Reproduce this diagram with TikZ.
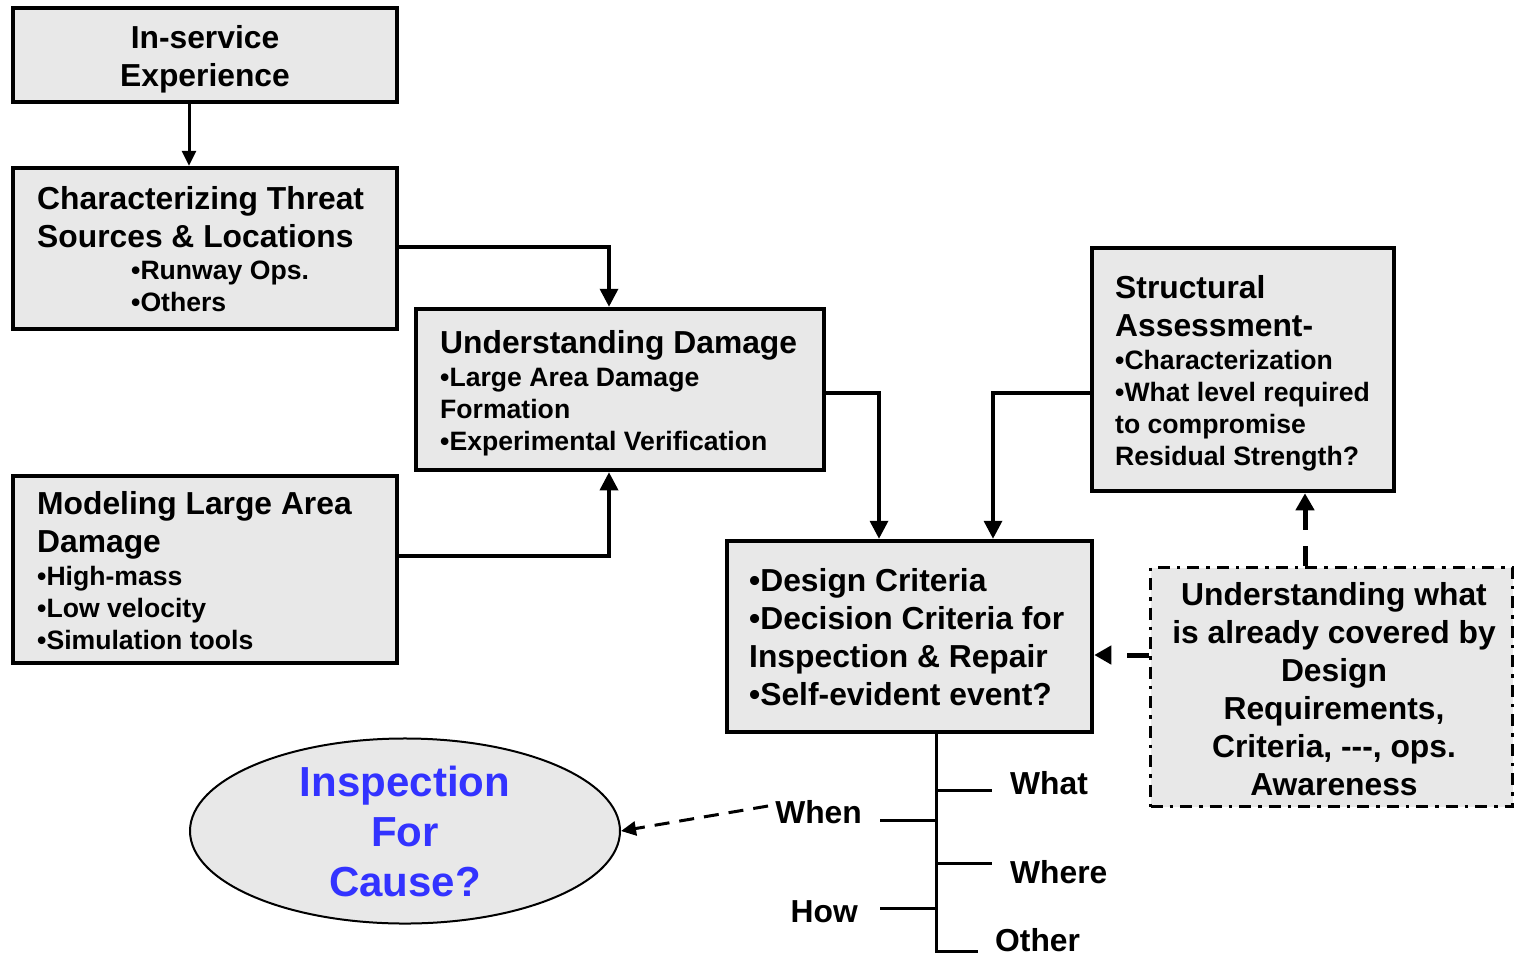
\documentclass[tikz,border=0pt]{standalone}
\usepackage{fontspec}
\setmainfont{Liberation Sans}
\usetikzlibrary{arrows.meta,shapes.geometric,calc}
\definecolor{boxgray}{HTML}{E8E8E8}
\definecolor{askblue}{HTML}{3333FF}
\begin{document}
\begin{tikzpicture}[x=1pt,y=-1pt,
  box/.style={draw=black,fill=boxgray,line width=4.5pt,inner sep=0pt,rectangle},
  big/.style={font=\bfseries\fontsize{31.8}{38}\selectfont,inner sep=0pt},
  small/.style={font=\bfseries\fontsize{26.6}{32}\selectfont,inner sep=0pt},
  conn/.style={line width=3.5pt,-{Triangle[length=18pt,width=18pt]}},
  thinconn/.style={line width=3pt,-{Triangle[length=15pt,width=14pt]}},
  dashconn/.style={line width=5pt,dash pattern=on 20pt off 16pt,-{Triangle[length=17pt,width=18pt]}},
  tree/.style={line width=3pt},
  ask/.style={ellipse,draw=black,fill=boxgray,line width=2pt,inner sep=0pt,
    minimum width=430pt,minimum height=174pt,text=askblue,align=center,
    font=\bfseries\fontsize{42}{50}\selectfont},
]
\useasboundingbox (0,0) rectangle (1515,956);

% boxes
\node[box,minimum width=384pt,minimum height=94pt] (inserv) at (205,55) {};
\node[box,minimum width=384pt,minimum height=161pt] (charac) at (205,248.5) {};
\node[box,minimum width=408pt,minimum height=161pt] (underst) at (620,389.5) {};
\node[box,minimum width=384pt,minimum height=187pt] (model) at (205,569.5) {};
\node[box,minimum width=302pt,minimum height=243pt] (struct) at (1243,369.5) {};
\node[box,minimum width=365pt,minimum height=191pt] (design) at (909.5,636.5) {};
\node[draw=black,fill=boxgray,line width=3.5pt,inner sep=0pt,
      dash pattern=on 12pt off 7pt on 3.5pt off 7pt,
      minimum width=362pt,minimum height=239pt] (uwhat) at (1331.5,687) {};
\node[ask] (cause) at (405,831) {Inspection\\For\\Cause?};

% box texts (anchored at the baseline of their last line)
\node[big,align=center,anchor=base] (t1) at (205,86) {In-service\\Experience};
\node[big,align=left,anchor=base west] (t2) at (37,247) {Characterizing Threat\\Sources \& Locations};
\node[small,align=left,anchor=base west] (t2b) at (131,311) {•Runway Ops.\\•Others};
\node[big,align=left,anchor=base west] (t3) at (440,353) {Understanding Damage};
\node[small,align=left,anchor=base west] (t3b) at (440,450) {•Large Area Damage\\Formation\\•Experimental Verification};
\node[big,align=left,anchor=base west] (t4) at (37,552) {Modeling Large Area\\Damage};
\node[small,align=left,anchor=base west] (t4b) at (37,649) {•High-mass\\•Low velocity\\•Simulation tools};
\node[big,align=left,anchor=base west] (t5) at (1115,336) {Structural\\Assessment-};
\node[small,align=left,anchor=base west] (t5b) at (1115,465) {•Characterization\\•What level required\\to compromise\\Residual Strength?};
\node[big,align=left,anchor=base west] (t6) at (749,705) {•Design Criteria\\•Decision Criteria for\\Inspection \& Repair\\•Self-evident event?};
\node[big,align=center,anchor=base] (t7) at (1334,795) {Understanding what\\is already covered by\\Design\\Requirements,\\Criteria, -{}-{}-, ops.\\Awareness};

% tree labels
\node[big,anchor=base west] (lwhat) at (1010,794) {What};
\node[big,anchor=base east] (lwhen) at (862,823) {When};
\node[big,anchor=base west] (lwhere) at (1010,883) {Where};
\node[big,anchor=base east] (lhow) at (858,922) {How};
\node[big,anchor=base west] (lother) at (995,951) {Other};

% helper coordinates
\coordinate (c247) at (0,247);
\coordinate (c556) at (0,556);
\coordinate (c393) at (0,393);
\coordinate (c655) at (0,655);
\coordinate (x189) at (189,0);
\coordinate (x609) at (609,0);
\coordinate (x879) at (879,0);
\coordinate (x993) at (993,0);
\coordinate (x1305) at (1305,0);
\coordinate (x936) at (936,0);

% connectors
\draw[thinconn] (inserv.south -| x189) -- (charac.north -| x189);
\draw[conn] (charac.east |- c247) -| (underst.north -| x609);
\draw[conn] (model.east |- c556) -| (underst.south -| x609);
\draw[conn] (underst.east |- c393) -| (design.north -| x879);
\draw[conn] (struct.west |- c393) -| (design.north -| x993);
\draw[dashconn] (uwhat.north -| x1305) -- (struct.south -| x1305);
\draw[dashconn,dash pattern=on 22pt off 16pt] (uwhat.west |- c655) -- (design.east |- c655);

% tree under the design box
\coordinate (trunk) at (design.south -| x936);
\coordinate (tbot) at (936,951);
\coordinate (bwhat) at (936,790);
\coordinate (bwhen) at (936,820);
\coordinate (bwhere) at (936,863);
\coordinate (bhow) at (936,908);
\draw[tree] (trunk) -- (tbot) -- (978,951);
\draw[tree] (bwhat) -- (992,790);
\draw[tree] (bwhen) -- (880,820);
\draw[tree] (bwhere) -- (992,863);
\draw[tree] (bhow) -- (880,908);

\coordinate (whenstart) at (768,806);
\draw[line width=3pt,dash pattern=on 15pt off 10pt,-{Triangle[length=15pt,width=14pt]}] (whenstart) -- (cause.east);
\end{tikzpicture}
\end{document}
